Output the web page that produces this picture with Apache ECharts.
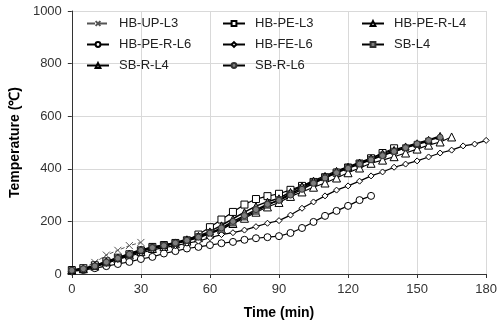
<!DOCTYPE html>
<html><head><meta charset="utf-8">
<script src="https://cdn.jsdelivr.net/npm/echarts@6/dist/echarts.min.js"></script>
<style>html,body{margin:0;padding:0;background:#fff}#c{width:500px;height:327px}</style>
</head><body><div id="c"></div>
<script>
var times = [0,5,10,15,20,25,30,35,40,45,50,55,60,65,70,75,80,85,90,95,100,105,110,115,120,125,130,135,140,145,150,155,160,165,170,175,180];
var xTicks = [0,30,60,90,120,150,180];
var yTicks = [0,200,400,600,800,1000];
var seriesNames = ['HB-UP-L3','HB-PE-L3','HB-PE-R-L4','HB-PE-R-L6','HB-FE-L6','SB-L4','SB-R-L4','SB-R-L6'];
var hbUpL3 = [12,22,44,72,90,108,120];
var hbPeL3 = [15,22,33,48,62,75,90,103,110,118,128,150,178,207,236,264,285,296,305,320,335,350,368,385,405,420,440,460,478];
var hbPeRL4 = [15,20,30,45,58,72,85,97,105,115,125,138,152,170,192,212,235,255,272,295,312,330,346,365,385,403,421,433,446,460,475,490,502,521];
var hbPeRL6 = [10,15,22,30,38,46,57,65,78,87,97,103,110,117,122,130,136,140,144,156,175,198,221,240,259,281,297];
var hbFeL6 = [12,18,28,40,55,68,80,92,100,108,117,125,138,150,157,167,180,193,203,224,250,274,297,319,335,353,373,388,406,418,430,445,460,471,487,494,508];
var sbL4 = [12,18,28,42,58,72,88,100,108,117,128,142,158,170,194,217,239,262,282,305,328,350,368,388,405,420,436,452,467,480,493,505];
var sbRL4 = [15,20,32,48,62,78,92,102,110,120,132,145,162,185,210,235,258,275,288,312,335,355,373,392,408,424,440,458,472,485,497,510,525];
var sbRL6 = [14,20,30,45,60,75,90,100,108,118,128,140,155,175,200,222,245,265,280,300,322,345,365,385,402,418,434,450,466,480,495,508,520];

function pairs(vals){ return vals.map(function(v,i){ return [times[i], v]; }); }

var styles = {
  'HB-UP-L3': {sym:'path://M0,0L10,10M10,0L0,10', size:7, fill:'none', border:'#555', line:'#555', lw:1, type:'dashed'},
  'HB-PE-L3': {sym:'rect', size:7, fill:'#fff', border:'#000', line:'#000', lw:1.2},
  'HB-PE-R-L4': {sym:'triangle', size:8, fill:'#fff', border:'#000', line:'#000', lw:1.2},
  'HB-PE-R-L6': {sym:'circle', size:7, fill:'#fff', border:'#000', line:'#000', lw:1.2},
  'HB-FE-L6': {sym:'diamond', size:6, fill:'#fff', border:'#000', line:'#000', lw:1.2},
  'SB-L4': {sym:'rect', size:6, fill:'#7f7f7f', border:'#333', line:'#000', lw:1.5},
  'SB-R-L4': {sym:'triangle', size:7, fill:'#7f7f7f', border:'#000', line:'#000', lw:1.5},
  'SB-R-L6': {sym:'circle', size:6, fill:'#7f7f7f', border:'#333', line:'#000', lw:1.5}
};
var dataMap = {
  'HB-UP-L3': hbUpL3, 'HB-PE-L3': hbPeL3, 'HB-PE-R-L4': hbPeRL4, 'HB-PE-R-L6': hbPeRL6,
  'HB-FE-L6': hbFeL6, 'SB-L4': sbL4, 'SB-R-L4': sbRL4, 'SB-R-L6': sbRL6
};
var series = seriesNames.map(function(n){
  var s = styles[n];
  return {
    name: n, type: 'line', data: pairs(dataMap[n]),
    symbol: s.sym, symbolSize: s.size, showAllSymbol: true,
    lineStyle: {color: s.line, width: s.lw, type: s.type || 'solid'},
    itemStyle: {color: s.fill, borderColor: s.border, borderWidth: 1},
    emphasis: {disabled: true}, animation: false
  };
});
function legend(names, left){
  return {
    data: names, orient: 'vertical', left: left, top: 17, itemGap: 8,
    itemWidth: 22, itemHeight: 6, padding: 0,
    textStyle: {fontFamily: 'Liberation Sans', fontSize: 13, color: '#222', padding: [0,0,0,5], lineHeight: 13},
    selectedMode: false
  };
}
var chart = echarts.init(document.getElementById('c'), null, {renderer: 'canvas'});
chart.setOption({
  backgroundColor: '#fff',
  animation: false,
  grid: {left: 67, right: 13, top: 11, bottom: 53},
  legend: [
    legend(['HB-UP-L3','HB-PE-R-L6','SB-R-L4'], 86),
    legend(['HB-PE-L3','HB-FE-L6','SB-R-L6'], 222),
    legend(['HB-PE-R-L4','SB-L4'], 361)
  ],
  xAxis: {
    type: 'value', min: xTicks[0], max: xTicks[xTicks.length-1], interval: 30,
    name: 'Time (min)', nameLocation: 'middle', nameGap: 32,
    nameTextStyle: {fontFamily: 'Liberation Sans', fontSize: 14, fontWeight: 'bold', color: '#000'},
    axisLine: {lineStyle: {color: '#333', width: 1}},
    axisTick: {show: true, length: 4, lineStyle: {color: '#333'}},
    axisLabel: {fontFamily: 'Liberation Sans', fontSize: 13, color: '#333', margin: 9},
    splitLine: {show: true, lineStyle: {color: '#d9d9d9', width: 1}}
  },
  yAxis: {
    type: 'value', min: yTicks[0], max: yTicks[yTicks.length-1], interval: 200,
    name: 'Temperature (\u2103)', nameLocation: 'middle', nameGap: 47, nameRotate: 90,
    nameTextStyle: {fontFamily: 'Liberation Sans', fontSize: 14, fontWeight: 'bold', color: '#000'},
    axisLine: {show: true, lineStyle: {color: '#333', width: 1}},
    axisTick: {show: true, length: 4, lineStyle: {color: '#333'}},
    axisLabel: {fontFamily: 'Liberation Sans', fontSize: 13, color: '#333', margin: 10, formatter: function(v){ return String(v); }},
    splitLine: {show: true, lineStyle: {color: '#d9d9d9', width: 1}}
  },
  series: series
});
</script>
</body></html>
